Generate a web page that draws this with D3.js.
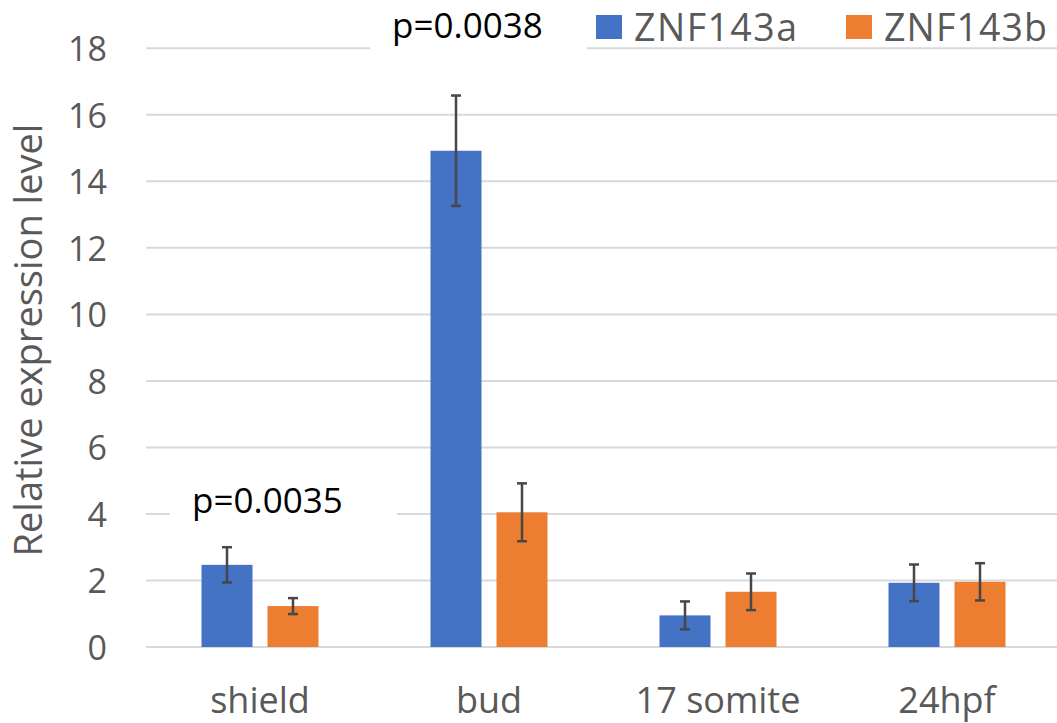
<!DOCTYPE html>
<html>
<head>
<meta charset="utf-8">
<script src="https://cdn.jsdelivr.net/npm/d3@7"></script>
<style>
  html, body { margin: 0; padding: 0; background: #fff; }
  svg { display: block; }
  text { font-family: "Open Sans", sans-serif; }
</style>
</head>
<body>
<svg id="chart" width="1057" height="723"></svg>
<script>
const categories = ["shield", "bud", "17 somite", "24hpf"];
const seriesNames = ["ZNF143a", "ZNF143b"];
const valuesA = [2.47, 14.92, 0.95, 1.93];
const valuesB = [1.23, 4.05, 1.66, 1.96];
const errorsA = [0.53, 1.66, 0.42, 0.55];
const errorsB = [0.24, 0.87, 0.55, 0.56];
const yTicks = [0, 2, 4, 6, 8, 10, 12, 14, 16, 18];
const annotations = [
  { text: "p=0.0035", category: "shield", value: 4 },
  { text: "p=0.0038", category: "bud", value: 18 }
];
const colors = ["#4472C4", "#ED7D31"];

const svg = d3.select("#chart");
const y = d3.scaleLinear().domain([0, 18]).range([647, 48.3]);
const x0 = d3.scaleBand().domain(categories).range([145.5, 1061.5]).paddingInner(0).paddingOuter(0);
const bw = x0.bandwidth();
const x1 = d3.scaleBand().domain(seriesNames).range([bw / 2 - 58.5, bw / 2 + 58.5]).paddingInner(0.2273).paddingOuter(0);

// gridlines
svg.append("g").selectAll("line").data(yTicks).join("line")
  .attr("x1", 146).attr("x2", 1057)
  .attr("y1", d => y(d)).attr("y2", d => y(d))
  .attr("stroke", "#d9d9d9").attr("stroke-width", 2);

// y tick labels
const yAxis = d3.axisLeft(y).tickValues(yTicks).tickSize(0).tickPadding(0);
const gy = svg.append("g").attr("transform", "translate(107,0)").call(yAxis);
gy.select(".domain").remove();
gy.selectAll("text")
  .attr("font-family", "Open Sans, sans-serif")
  .attr("font-size", 34).attr("fill", "#595959").attr("dy", "0.36em");

// x category labels
const xAxis = d3.axisBottom(x0).tickSize(0).tickPadding(0);
const gx = svg.append("g").attr("transform", "translate(0,686)").call(xAxis);
gx.select(".domain").remove();
gx.selectAll("text")
  .attr("font-family", "Open Sans, sans-serif")
  .attr("font-size", 36).attr("fill", "#595959").attr("dy", "0.76em");

// bars
const data = [];
categories.forEach((c, i) => {
  data.push({ c, s: seriesNames[0], v: valuesA[i], e: errorsA[i], col: colors[0] });
  data.push({ c, s: seriesNames[1], v: valuesB[i], e: errorsB[i], col: colors[1] });
});
svg.append("g").selectAll("rect").data(data).join("rect")
  .attr("x", d => x0(d.c) + x1(d.s))
  .attr("width", x1.bandwidth())
  .attr("y", d => y(d.v))
  .attr("height", d => y(0) - y(d.v))
  .attr("fill", d => d.col);

// error bars
const eg = svg.append("g").attr("stroke", "#474747").attr("stroke-width", 2.5);
data.forEach(d => {
  const cx = x0(d.c) + x1(d.s) + x1.bandwidth() / 2;
  eg.append("line").attr("x1", cx).attr("x2", cx).attr("y1", y(d.v + d.e)).attr("y2", y(d.v - d.e));
  eg.append("line").attr("x1", cx - 5).attr("x2", cx + 5).attr("y1", y(d.v + d.e)).attr("y2", y(d.v + d.e));
  eg.append("line").attr("x1", cx - 5).attr("x2", cx + 5).attr("y1", y(d.v - d.e)).attr("y2", y(d.v - d.e));
});

// annotation boxes and texts
const annBoxes = [
  { x: 170, w: 227 },
  { x: 370, w: 217 }
];
annotations.forEach((a, i) => {
  const b = annBoxes[i];
  svg.append("rect").attr("x", b.x).attr("y", y(a.value) - 4).attr("width", b.w).attr("height", 8).attr("fill", "#fff");
});
svg.append("text").attr("x", 192).attr("y", y(annotations[0].value) - 1)
  .attr("font-size", 35).attr("fill", "#000").text(annotations[0].text);
svg.append("text").attr("x", 392).attr("y", 38)
  .attr("font-size", 35).attr("fill", "#000").text(annotations[1].text);

// legend
const legendX = [596, 846];
seriesNames.forEach((s, i) => {
  svg.append("rect").attr("x", legendX[i]).attr("y", 15).attr("width", 26).attr("height", 24).attr("fill", colors[i]);
  svg.append("text").attr("x", legendX[i] + 38).attr("y", 40.5)
    .attr("font-size", 37.5).attr("fill", "#595959")
    .attr("textLength", 163).attr("lengthAdjust", "spacing")
    .text(s);
});

// y title
svg.append("text")
  .attr("transform", "translate(42,340) rotate(-90)")
  .attr("text-anchor", "middle")
  .attr("font-size", 38).attr("fill", "#595959")
  .text("Relative expression level");
</script>
</body>
</html>
